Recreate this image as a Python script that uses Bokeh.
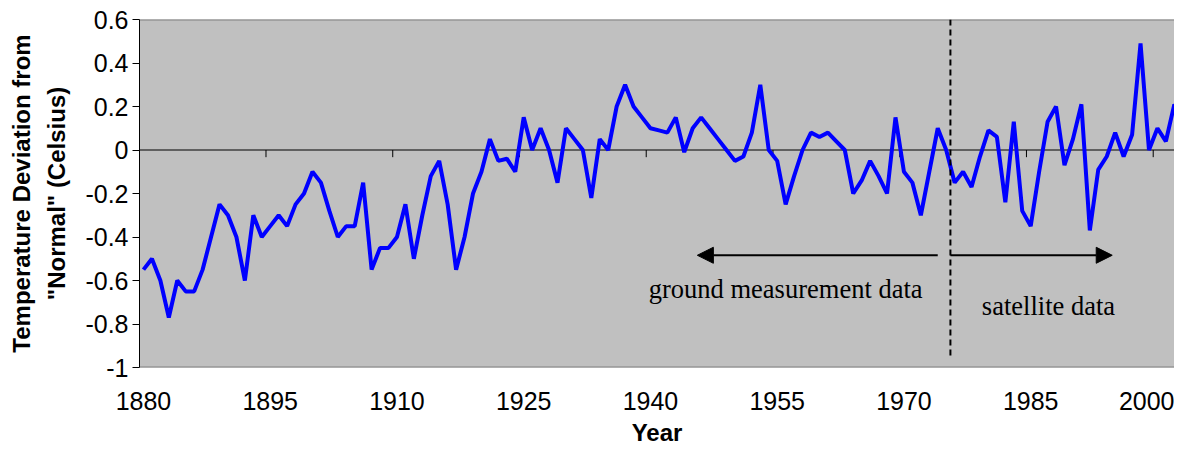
from bokeh.plotting import figure
from bokeh.models import (Range1d, FixedTicker, CustomJSTickFormatter, Span,
                          Arrow, NormalHead, Label)
from bokeh.embed import file_html
from bokeh.resources import INLINE

# ---- data ----
first_year = 1880
anomaly = [
    -0.55, -0.50, -0.60, -0.77, -0.60, -0.65, -0.65, -0.55, -0.40, -0.25,   # 1880s
    -0.30, -0.40, -0.60, -0.30, -0.40, -0.35, -0.30, -0.35, -0.25, -0.20,   # 1890s
    -0.10, -0.15, -0.28, -0.40, -0.35, -0.35, -0.15, -0.55, -0.45, -0.45,   # 1900s
    -0.40, -0.25, -0.50, -0.30, -0.12, -0.05, -0.25, -0.55, -0.40, -0.20,   # 1910s
    -0.10, 0.05, -0.05, -0.04, -0.10, 0.15, 0.00, 0.10, 0.00, -0.15,        # 1920s
    0.10, 0.05, 0.00, -0.22, 0.05, 0.00, 0.20, 0.30, 0.20, 0.15,            # 1930s
    0.10, 0.09, 0.08, 0.15, -0.01, 0.10, 0.15, 0.10, 0.05, 0.00,            # 1940s
    -0.05, -0.03, 0.08, 0.30, 0.00, -0.05, -0.25, -0.12, 0.00, 0.08,        # 1950s
    0.06, 0.08, 0.04, 0.00, -0.20, -0.14, -0.05, -0.12, -0.20, 0.15,        # 1960s
    -0.10, -0.15, -0.30, -0.10, 0.10, 0.00, -0.15, -0.10, -0.17, -0.03,     # 1970s
    0.09, 0.06, -0.24, 0.13, -0.28, -0.35, -0.10, 0.13, 0.20, -0.07,        # 1980s
    0.05, 0.21, -0.37, -0.09, -0.03, 0.08, -0.03, 0.07, 0.49, 0.00,         # 1990s
    0.10, 0.04, 0.21, 0.09, 0.19,                                           # 2000s
]
years = list(range(first_year, first_year + len(anomaly)))
label_years = [1880, 1895, 1910, 1925, 1940, 1955, 1970, 1985, 2000]
y_ticks = [-1, -0.8, -0.6, -0.4, -0.2, 0, 0.2, 0.4, 0.6]
split_year = 1975.5          # ground measurements -> satellite data
ground_text = "ground measurement data"
satellite_text = "satellite data"

# ---- figure ----
p = figure(width=1174, height=448, output_backend="svg", toolbar_location=None,
           x_range=Range1d(1879.53, 2002.02), y_range=Range1d(-1, 0.6),
           min_border_left=139, min_border_right=0, min_border_top=19,
           min_border_bottom=79,
           background_fill_color="#C0C0C0", border_fill_color="white",
           outline_line_color=None)
p.grid.visible = False

# frame top/bottom borders
for loc in (0.6, -1):
    p.add_layout(Span(location=loc, dimension="width", line_color="#808080",
                      line_width=2, level="underlay"))

# zero line with category tick marks (Excel category axis crossing at 0)
p.add_layout(Span(location=0, dimension="width", line_color="black",
                  line_width=1, level="underlay"))
cat_ticks = [y - 0.5 for y in label_years[1:]]
p.segment(x0=cat_ticks, y0=[0] * len(cat_ticks), x1=cat_ticks,
          y1=[-0.033] * len(cat_ticks), line_color="black", line_width=1)

# main series
p.line(years, anomaly, line_color="#0000FF", line_width=4)

# split line
p.segment(x0=[split_year], y0=[0.6], x1=[split_year], y1=[-0.96],
          line_color="black", line_width=2, line_dash="6 4")

# arrows
p.add_layout(Arrow(end=NormalHead(size=16, fill_color="black", line_color="black"),
                   x_start=split_year - 1.5, y_start=-0.484,
                   x_end=1945.55, y_end=-0.484,
                   line_color="black", line_width=2))
p.add_layout(Arrow(end=NormalHead(size=16, fill_color="black", line_color="black"),
                   x_start=split_year, y_start=-0.484,
                   x_end=1994.65, y_end=-0.484,
                   line_color="black", line_width=2))

p.add_layout(Label(x=1956.0, y=-0.639, text=ground_text,
                   text_font="Liberation Serif", text_font_size="26.5px",
                   text_align="center", text_baseline="alphabetic",
                   text_color="black"))
p.add_layout(Label(x=1987.1, y=-0.715, text=satellite_text,
                   text_font="Liberation Serif", text_font_size="26.5px",
                   text_align="center", text_baseline="alphabetic",
                   text_color="black"))

# x axis
xa = p.xaxis[0]
xa.ticker = FixedTicker(ticks=label_years)
xa.axis_line_color = None
xa.major_tick_line_color = None
xa.minor_tick_line_color = None
xa.major_tick_out = 0
xa.major_label_standoff = 24
xa.major_label_text_font = "Liberation Sans"
xa.major_label_text_font_size = "25px"
xa.major_label_text_color = "black"
xa.axis_label = "Year"
xa.axis_label_text_font = "Liberation Sans"
xa.axis_label_text_font_size = "24px"
xa.axis_label_text_font_style = "bold"
xa.axis_label_text_color = "black"
xa.axis_label_standoff = 6

# y axis
ya = p.yaxis[0]
ya.ticker = FixedTicker(ticks=y_ticks)
ya.formatter = CustomJSTickFormatter(code="return tick.toFixed(1).replace(/\\.0$/, '');")
ya.axis_line_color = "black"
ya.axis_line_width = 1
ya.major_tick_line_color = "black"
ya.major_tick_out = 7
ya.major_tick_in = 0
ya.minor_tick_line_color = None
ya.major_label_standoff = 4
ya.major_label_text_font = "Liberation Sans"
ya.major_label_text_font_size = "25px"
ya.major_label_text_color = "black"
ya.axis_label = 'Temperature Deviation from\n"Normal" (Celsius)'
ya.axis_label_text_font = "Liberation Sans"
ya.axis_label_text_font_size = "24px"
ya.axis_label_text_font_style = "bold"
ya.axis_label_text_color = "black"
ya.axis_label_text_line_height = 1.3
ya.axis_label_standoff = 12

open("out.html", "w").write(file_html(p, INLINE))
